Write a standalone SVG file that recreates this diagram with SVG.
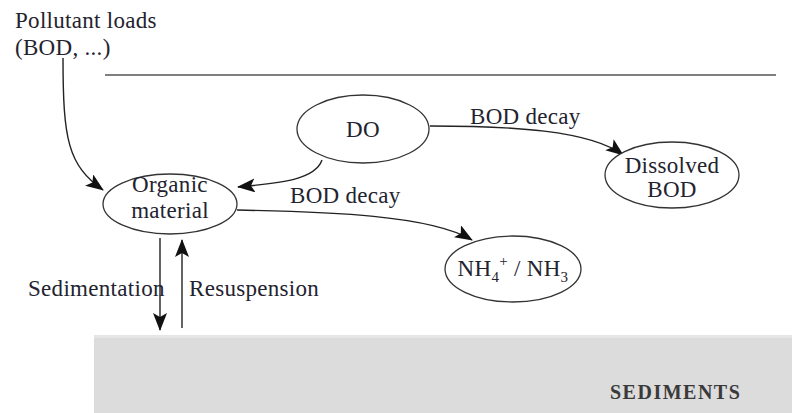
<svg xmlns="http://www.w3.org/2000/svg" width="792" height="413" viewBox="0 0 792 413">
<style>
text{font-family:"Liberation Serif","Times New Roman","DejaVu Serif",serif;font-size:23px;letter-spacing:0.3px;fill:#23232f}
.node ellipse{fill:#fff;stroke:#333;stroke-width:1.3}
.c path,.c line{fill:none;stroke:#222;stroke-width:1.4}
</style>
<defs>
<marker id="ah" viewBox="0 0 18 14" refX="17" refY="7" markerWidth="18" markerHeight="14" markerUnits="userSpaceOnUse" orient="auto">
<path d="M0,0 L18,7 L0,14 L4,7 Z" fill="#111"/>
</marker>
</defs>
<rect width="792" height="413" fill="#fff"/>
<g id="sediments">
<rect x="94" y="335" width="698" height="78" fill="#dcdcdc"/>
<rect x="94" y="335" width="698" height="3" fill="#e6e6e6"/>
<text x="610" y="399" style="font-size:20px;font-weight:bold;letter-spacing:1.5px;fill:#3a3a3a">SEDIMENTS</text>
</g>
<g id="surface"><line x1="105" y1="75" x2="776" y2="75" stroke="#555" stroke-width="1.5"/></g>
<g id="pollutant">
<text x="15" y="28">Pollutant loads</text>
<text x="15" y="55">(BOD, ...)</text>
</g>
<g class="c" id="connectors">
<path d="M63,58 C63,140 68,165 103,190" marker-end="url(#ah)"/>
<path d="M322,160 C315,180 280,183 238,187" marker-end="url(#ah)"/>
<path d="M430,126 C510,126 590,130 623,155" marker-end="url(#ah)"/>
<path d="M237,210 C330,212 430,215 472,240" marker-end="url(#ah)"/>
<line x1="160" y1="238" x2="160" y2="330" marker-end="url(#ah)"/>
<line x1="182" y1="328" x2="182" y2="240" marker-end="url(#ah)"/>
<text x="470" y="124">BOD decay</text>
<text x="290" y="203">BOD decay</text>
<text x="28" y="296">Sedimentation</text>
<text x="189" y="296">Resuspension</text>
</g>
<g class="node" id="do">
<ellipse cx="363" cy="129" rx="66" ry="34"/>
<text x="363" y="137" text-anchor="middle">DO</text>
</g>
<g class="node" id="organic">
<ellipse cx="170" cy="204" rx="67" ry="30"/>
<text x="170" y="192" text-anchor="middle">Organic</text>
<text x="170" y="218" text-anchor="middle">material</text>
</g>
<g class="node" id="dissolved">
<ellipse cx="672" cy="175" rx="67" ry="33"/>
<text x="672" y="173" text-anchor="middle">Dissolved</text>
<text x="672" y="197" text-anchor="middle">BOD</text>
</g>
<g class="node" id="nh">
<ellipse cx="513" cy="269" rx="68" ry="33"/>
<text x="513" y="276" text-anchor="middle">NH<tspan dy="6" style="font-size:15px">4</tspan><tspan dy="-16" style="font-size:15px">+</tspan><tspan dy="10"> / NH</tspan><tspan dy="6" style="font-size:15px">3</tspan></text>
</g>
</svg>
